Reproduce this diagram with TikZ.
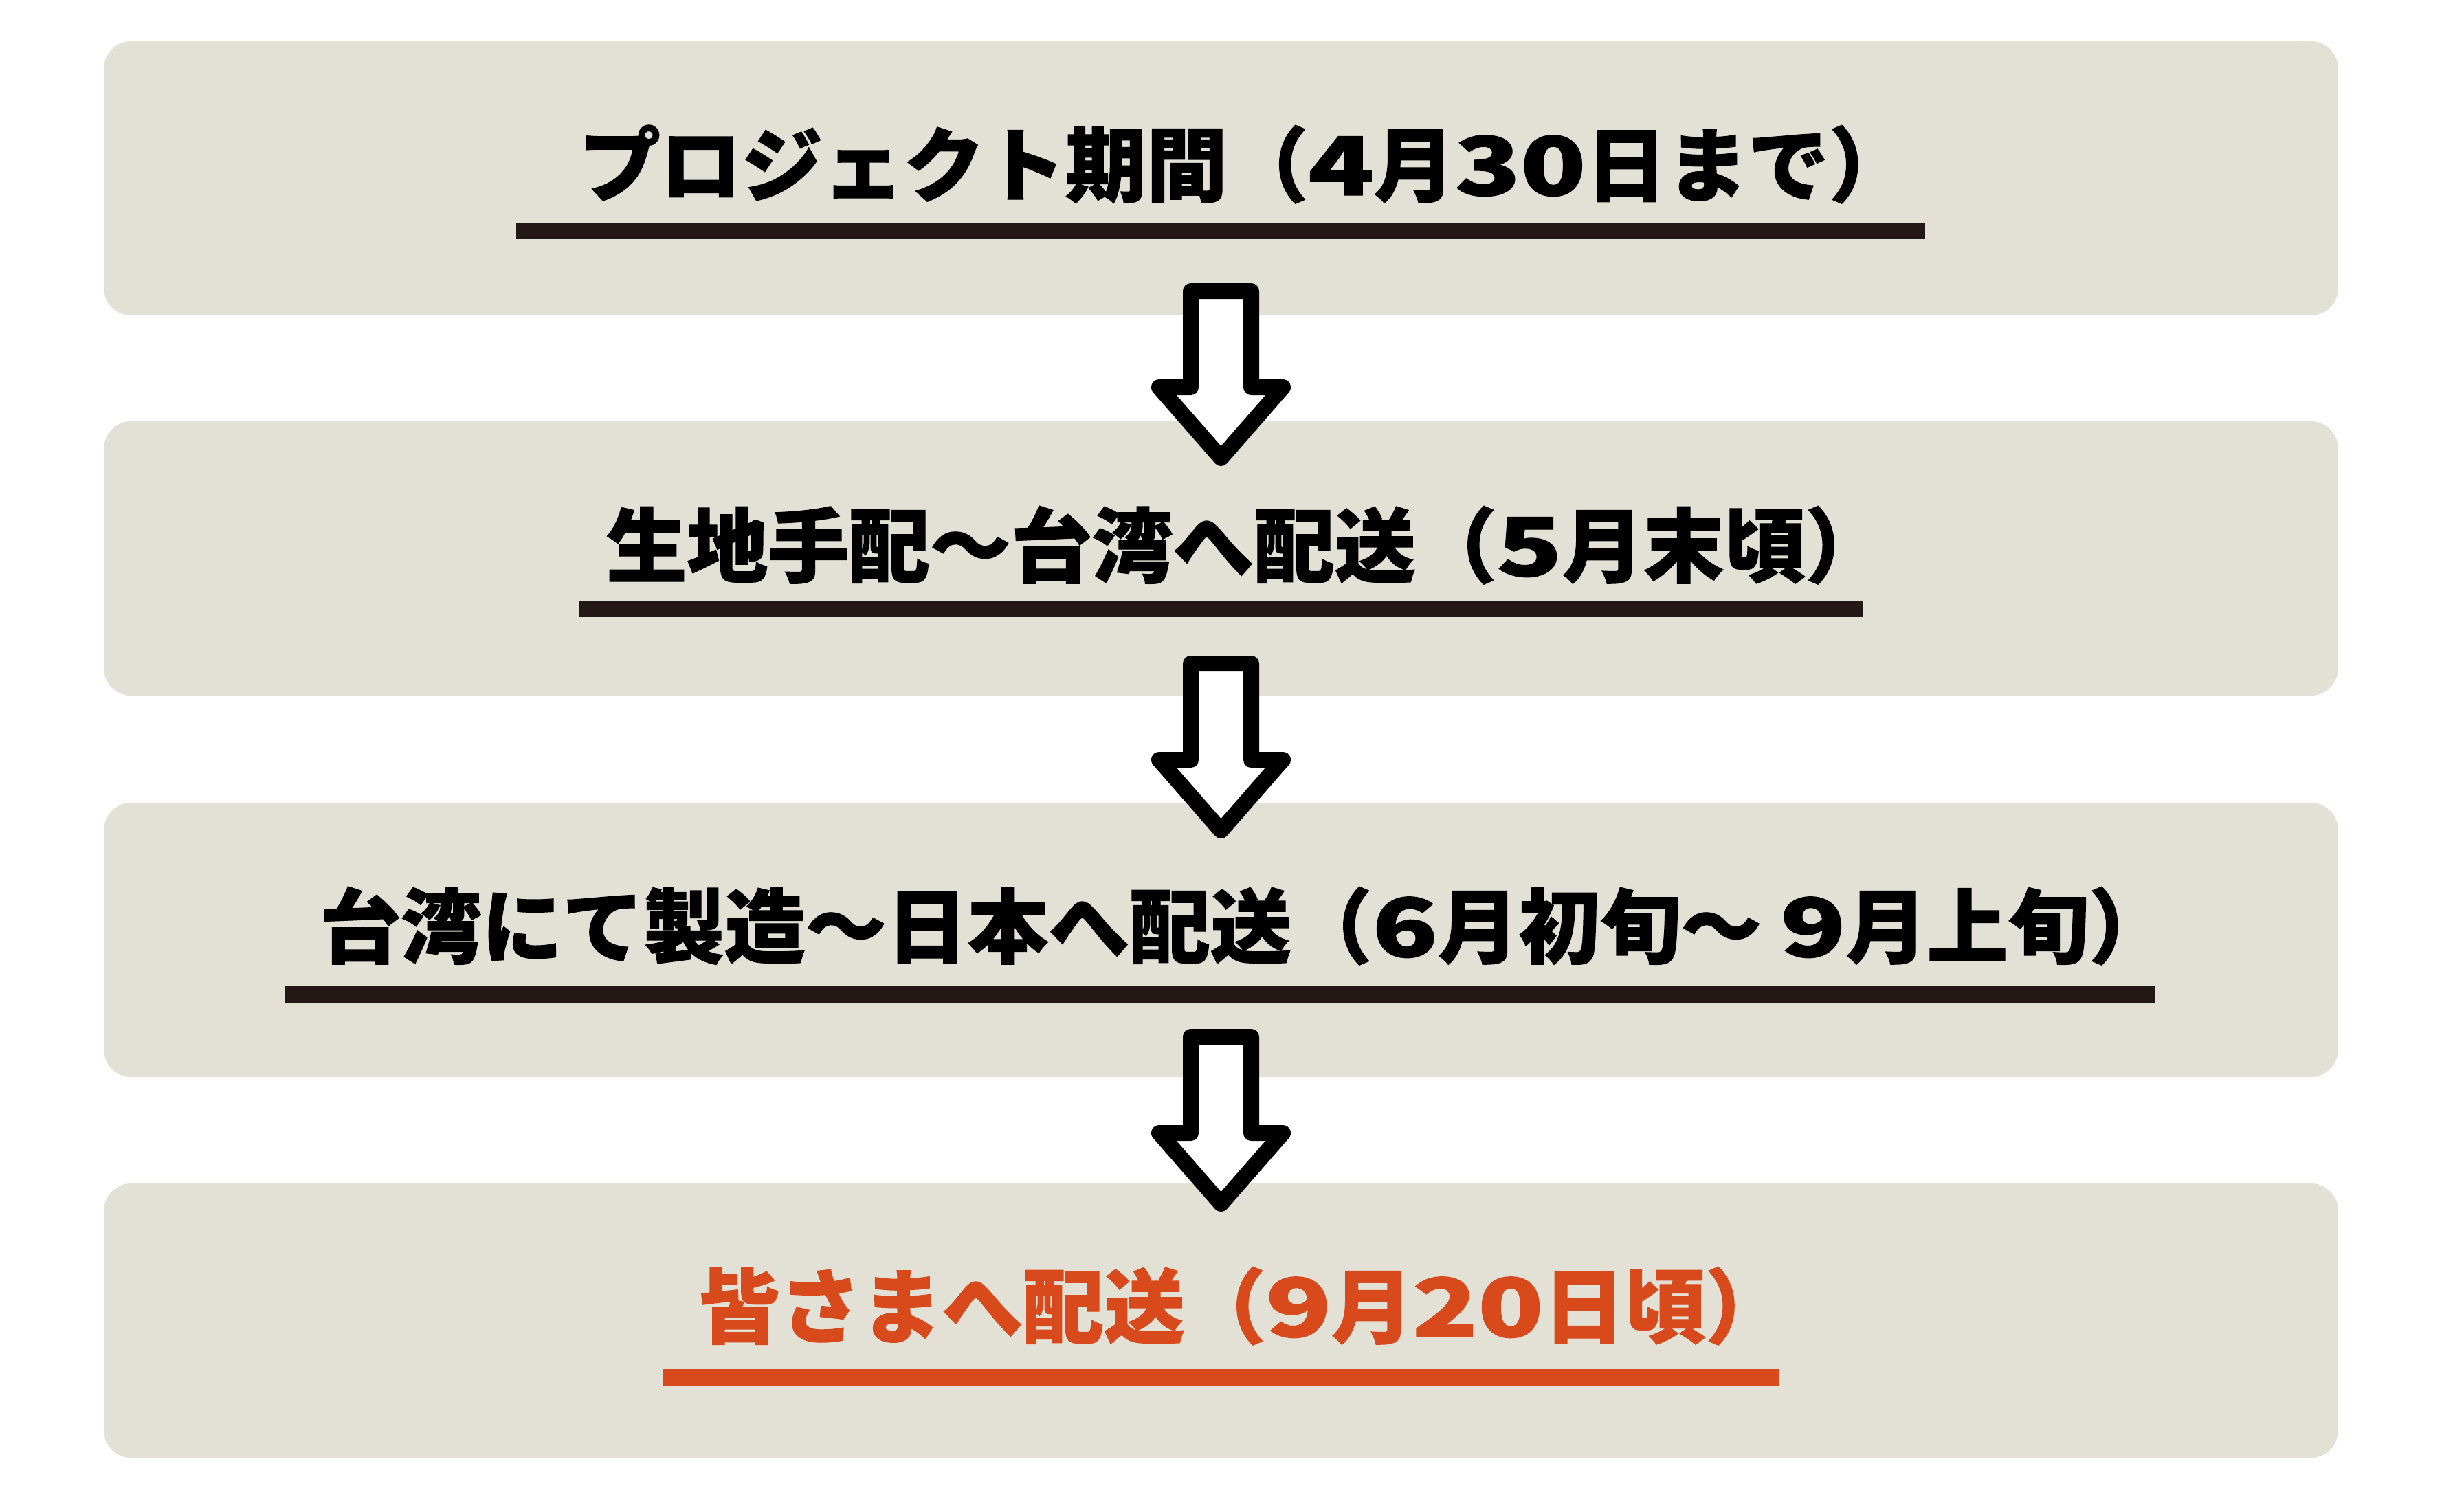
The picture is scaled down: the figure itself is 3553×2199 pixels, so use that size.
\documentclass[tikz,border=0pt]{standalone}
\usepackage{fontspec}
\usepackage{graphicx}
\newfontfamily\jpfont{Noto Sans CJK JP}[BoldFeatures={FakeBold=1.2}]
\definecolor{panelfill}{HTML}{E3E0D6}
\definecolor{ulinedark}{HTML}{231815}
\definecolor{accent}{HTML}{D84A1B}
\newcommand\widedigit[1]{\scalebox{1.33}[1]{#1}}
\tikzset{
  panel/.style={fill=panelfill, rounded corners=0.4cm, minimum width=32.49cm, minimum height=3.99cm, inner sep=0pt},
  lbl/.style={font=\jpfont\bfseries\fontsize{33.5}{40}\selectfont, anchor=base, inner sep=0pt},
  uline/.style={line width=0.24cm, ulinedark},
  flowarrow/.style={draw=black, fill=white, line width=0.23cm, line join=round},
}
\newcommand\drawflowarrow[1]{%
  \draw[flowarrow] (#1) ++(-44,11.5) -- ++(88,0) -- ++(0,140) -- ++(46,0)
     -- ++(-90,103) -- ++(-90,-103) -- ++(46,0) -- cycle;}
\begin{document}
\begin{tikzpicture}[x=0.01cm,y=-0.01cm]
\useasboundingbox (0,0) rectangle (3553,2199);
% panels
\node[panel] (b1) at (1776.5,259.5) {};
\node[panel] (b2) at (1776.5,812.5) {};
\node[panel] (b3) at (1776.5,1367.5) {};
\node[panel] (b4) at (1776.5,1921.5) {};
% labels
\node[lbl] (t1) at (1811,284) {プロジェクト期間（\widedigit{4}月\widedigit{3}\widedigit{0}日まで）};
\node[lbl] (t2) at (1813,838) {生地手配〜台湾へ配送（\widedigit{5}月末頃）};
\node[lbl] (t3) at (1811,1392) {台湾にて製造〜日本へ配送（\widedigit{6}月初旬〜 \widedigit{9}月上旬）};
\node[lbl, text=accent] (t4) at (1808,1945) {皆さまへ配送（\widedigit{9}月\widedigit{2}\widedigit{0}日頃）};
% underlines
\coordinate (u1a) at (751,336);  \coordinate (u1b) at (2801,336);
\coordinate (u2a) at (843,886);  \coordinate (u2b) at (2710,886);
\coordinate (u3a) at (415,1447); \coordinate (u3b) at (3136,1447);
\coordinate (u4a) at (965,2004); \coordinate (u4b) at (2588,2004);
\draw[uline] (u1a) -- (u1b);
\draw[uline] (u2a) -- (u2b);
\draw[uline] (u3a) -- (u3b);
\draw[uline, accent] (u4a) -- (u4b);
% arrows
\coordinate (a1) at (1776.5,412);
\coordinate (a2) at (1776.5,954);
\coordinate (a3) at (1776.5,1497);
\drawflowarrow{a1}
\drawflowarrow{a2}
\drawflowarrow{a3}
\end{tikzpicture}
\end{document}
